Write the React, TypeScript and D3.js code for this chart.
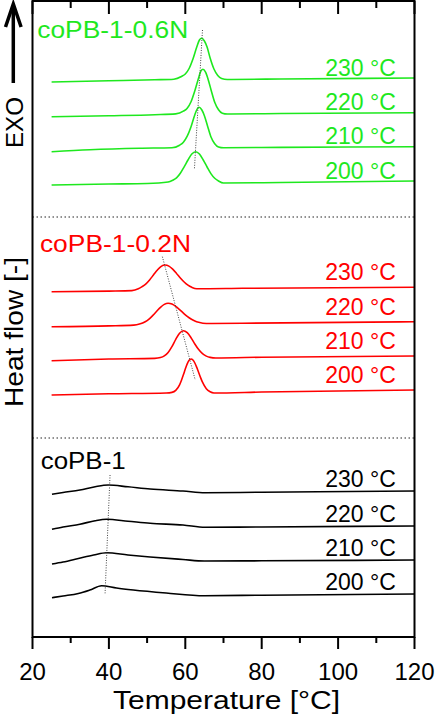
import * as d3 from 'd3';

const WIDTH = 436;
const HEIGHT = 719;
const margin = { top: 1, right: 21.5, bottom: 82, left: 32.5 };

// axis ticks
const xTicks = [20, 40, 60, 80, 100, 120];
const xMinorTicks = [30, 50, 70, 90, 110];

// samples and isothermal crystallization temperatures
const samples = ['coPB-1-0.6N', 'coPB-1-0.2N', 'coPB-1'];
const sampleColors = ['#1ee81e', '#ff0000', '#000000'];
const crystTemps = ['230 °C', '220 °C', '210 °C', '200 °C'];

// vertical offsets of each trace (a.u.), order 230 -> 200
const offsets06N = [55.9, 52.43, 49.03, 45.6];
const offsets02N = [34.97, 31.53, 28.1, 24.7];
const offsetsRef = [14.6, 11.1, 7.7, 4.3];

// heat flow traces [T °C, signal a.u.] relative to their offset
const n06_230: [number, number][] = [[25, -0.4], [40, -0.28], [52, -0.18], [57, -0.12], [59, 0.15], [60, 0.4], [61, 0.95], [62, 1.9], [63, 3.1], [63.7, 3.8], [64.3, 3.97], [65, 3.7], [65.7, 3.1], [66.5, 2.0], [67.5, 0.9], [68.5, 0.25], [69.5, -0.05], [71, -0.15], [85, -0.1], [120, 0]];
const n06_220: [number, number][] = [[25, -0.4], [40, -0.3], [52, -0.2], [57.5, -0.12], [59.5, 0.15], [60.5, 0.45], [61.5, 1.1], [62.5, 2.2], [63.5, 3.5], [64, 4.1], [64.6, 4.34], [65.3, 4.05], [66, 3.3], [66.8, 2.2], [67.7, 1.05], [68.7, 0.3], [69.7, -0.05], [71, -0.13], [85, -0.08], [120, 0]];
const n06_210: [number, number][] = [[25, -0.5], [35, -0.3], [48, -0.15], [56.5, -0.1], [58.5, 0.15], [59.5, 0.45], [60.5, 1.05], [61.5, 2.0], [62.5, 3.2], [63.1, 3.75], [63.6, 3.94], [64.3, 3.7], [65, 3.1], [65.8, 2.1], [66.7, 1.0], [67.7, 0.3], [68.7, -0.02], [70, -0.1], [85, -0.07], [120, 0]];
const n06_200: [number, number][] = [[25, -0.4], [40, -0.3], [50, -0.25], [55.5, -0.1], [56.7, 0.08], [57.7, 0.32], [58.7, 0.78], [59.7, 1.42], [60.7, 2.1], [61.7, 2.7], [62.7, 2.93], [63.7, 2.7], [64.7, 2.1], [65.7, 1.4], [66.7, 0.74], [67.7, 0.27], [68.7, 0.0], [70, -0.2], [85, -0.15], [120, 0]];

const n02_230: [number, number][] = [[25, -0.44], [40, -0.38], [46, -0.33], [47.7, -0.15], [48.7, 0.07], [49.7, 0.35], [50.7, 0.76], [51.7, 1.25], [52.7, 1.73], [53.7, 2.1], [54.7, 2.23], [55.7, 2.12], [56.7, 1.81], [57.7, 1.39], [58.7, 0.93], [59.7, 0.53], [60.7, 0.21], [61.7, 0.0], [63, -0.15], [75, -0.1], [120, 0]];
const n02_220: [number, number][] = [[25, -0.5], [40, -0.42], [46.5, -0.34], [48, -0.24], [49.5, -0.01], [50.5, 0.26], [51.5, 0.63], [52.5, 1.04], [53.5, 1.44], [54.5, 1.73], [55.5, 1.84], [56.5, 1.76], [57.5, 1.53], [58.5, 1.21], [59.5, 0.86], [60.5, 0.53], [61.5, 0.27], [62.5, 0.08], [63.5, -0.05], [65.5, -0.18], [75, -0.15], [120, 0]];
const n02_210: [number, number][] = [[25, -0.47], [40, -0.3], [52, -0.24], [53.5, -0.16], [54.5, 0.01], [55.5, 0.36], [56.5, 0.94], [57.5, 1.66], [58.5, 2.28], [59.5, 2.53], [60.5, 2.33], [61.5, 1.83], [62.5, 1.2], [63.5, 0.64], [64.5, 0.23], [65.5, -0.01], [66.5, -0.14], [68, -0.2], [80, -0.12], [120, 0]];
const n02_200: [number, number][] = [[25, -0.5], [40, -0.38], [55, -0.3], [56.5, -0.24], [57.5, -0.04], [58.5, 0.52], [59, 0.98], [59.5, 1.52], [60, 2.09], [60.5, 2.61], [61, 2.97], [61.5, 3.1], [62, 3.0], [62.5, 2.7], [63, 2.26], [63.5, 1.75], [64, 1.24], [64.5, 0.78], [65.5, 0.13], [66.5, -0.18], [67.5, -0.3], [80, -0.2], [120, 0]];

const ref_230: [number, number][] = [[25.1, -0.33], [28, -0.15], [32.4, 0.1], [36.4, 0.43], [39.8, 0.6], [45, 0.42], [50.8, 0.2], [59.4, 0.0], [65.2, -0.17], [80, -0.12], [120, 0]];
const ref_220: [number, number][] = [[25.1, -0.33], [28, -0.1], [32.4, 0.17], [36.4, 0.53], [39.4, 0.67], [45, 0.48], [50.8, 0.27], [59.4, 0.1], [65.2, -0.13], [80, -0.1], [120, 0]];
const ref_210: [number, number][] = [[25.1, -0.4], [28, -0.2], [32, 0.15], [36, 0.5], [39.4, 0.73], [45, 0.5], [50.8, 0.3], [59.4, 0.05], [65, -0.1], [80, -0.08], [120, 0]];
const ref_200: [number, number][] = [[25.1, -0.37], [28, -0.2], [32, 0.05], [35, 0.4], [38.1, 0.83], [42, 0.6], [46.4, 0.4], [55, 0.1], [65, -0.17], [80, -0.12], [120, 0]];

const traces = [
  [n06_230, n06_220, n06_210, n06_200],
  [n02_230, n02_220, n02_210, n02_200],
  [ref_230, ref_220, ref_210, ref_200],
];
const offsets = [offsets06N, offsets02N, offsetsRef];

// peak position guides (absolute T, heat flow)
const peakGuides: [number, number][][] = [
  [[64.5, 60.7], [62.4, 46.87]],
  [[54.0, 38.03], [62.6, 25.7]],
  [[40.3, 16.2], [39.0, 4.37]],
];

// dividers between samples (heat flow)
const dividers = [42.0, 19.9];

// text layout per sample: label anchor (T, hf), label width, temp-label lift
const sampleLabelPos: [number, number][] = [[21.25, 59.93], [21.95, 38.47], [22.15, 16.8]];
const sampleLabelWidth = [151, 151, 85];
const tempLabelLift = [2.5, 7, 4.5];

const FONT = "'Liberation Sans', Arial, sans-serif";

export default function App() {
  const innerW = WIDTH - margin.left - margin.right;
  const plotBottom = HEIGHT - margin.bottom;

  const x = d3.scaleLinear().domain([20, 120]).range([margin.left, margin.left + innerW]);
  const y = d3.scaleLinear().domain([0, 63.6]).range([plotBottom, margin.top]);

  const line = d3.line<[number, number]>()
    .x(d => x(d[0]))
    .y(d => y(d[1]))
    .curve(d3.curveMonotoneX);

  const x0 = x(20);
  const x1 = x(120);
  const tempLabelX = x(115.1);

  return (
    <svg
      width={WIDTH}
      height={HEIGHT}
      style={{ position: 'absolute', left: 0, top: 0, background: '#fff' }}
      fontFamily={FONT}
    >
      {/* sample dividers */}
      {dividers.map((d, i) => (
        <line key={`div${i}`} x1={x0} x2={x1} y1={y(d)} y2={y(d)}
          stroke="#222" strokeWidth={1} strokeDasharray="1.5 2.5" />
      ))}

      {/* heat flow traces */}
      {traces.map((group, gi) => group.map((pts, ti) => (
        <path key={`tr${gi}-${ti}`}
          d={line(pts.map(([t, v]) => [t, v + offsets[gi][ti]] as [number, number])) || ''}
          fill="none" stroke={sampleColors[gi]} strokeWidth={1.6} />
      )))}

      {/* peak guides */}
      {peakGuides.map((g, i) => (
        <line key={`pg${i}`} x1={x(g[0][0])} y1={y(g[0][1])} x2={x(g[1][0])} y2={y(g[1][1])}
          stroke="#444" strokeWidth={1} strokeDasharray="1 1.5" />
      ))}

      {/* sample labels */}
      {samples.map((s, i) => (
        <text key={`sl${i}`} x={x(sampleLabelPos[i][0])} y={y(sampleLabelPos[i][1])}
          fontSize={23} fill={sampleColors[i]}
          textLength={sampleLabelWidth[i]} lengthAdjust="spacingAndGlyphs">{s}</text>
      ))}

      {/* crystallization temperature labels */}
      {offsets.map((offs, gi) => offs.map((o, ti) => (
        <text key={`tl${gi}-${ti}`} x={tempLabelX} y={y(o) - tempLabelLift[gi]}
          fontSize={23} fill={sampleColors[gi]} textAnchor="end">{crystTemps[ti]}</text>
      )))}

      {/* frame */}
      <rect x={x0} y={margin.top} width={x1 - x0} height={plotBottom - margin.top}
        fill="none" stroke="#000" strokeWidth={2} />

      {/* bottom ticks (outward) */}
      {xTicks.map(t => (
        <line key={`bt${t}`} x1={x(t)} x2={x(t)} y1={plotBottom} y2={plotBottom + 12} stroke="#000" strokeWidth={2} />
      ))}
      {xMinorTicks.map(t => (
        <line key={`bm${t}`} x1={x(t)} x2={x(t)} y1={plotBottom} y2={plotBottom + 6} stroke="#000" strokeWidth={2} />
      ))}
      {/* top ticks (inward) */}
      {xTicks.map(t => (
        <line key={`tt${t}`} x1={x(t)} x2={x(t)} y1={margin.top} y2={margin.top + 13} stroke="#000" strokeWidth={2} />
      ))}
      {xMinorTicks.map(t => (
        <line key={`tm${t}`} x1={x(t)} x2={x(t)} y1={margin.top} y2={margin.top + 7} stroke="#000" strokeWidth={2} />
      ))}

      {/* tick labels */}
      {xTicks.map(t => (
        <text key={`xl${t}`} x={x(t)} y={plotBottom + 43} fontSize={24} textAnchor="middle">{t}</text>
      ))}

      {/* axis titles */}
      <text x={226.5} y={709} fontSize={26} textAnchor="middle"
        textLength={227} lengthAdjust="spacingAndGlyphs">Temperature [°C]</text>
      <text transform="translate(22.5,332) rotate(-90)" fontSize={25} textAnchor="middle"
        textLength={150} lengthAdjust="spacingAndGlyphs">Heat flow [-]</text>

      {/* exotherm direction */}
      <text transform="translate(22.7,122.5) rotate(-90)" fontSize={23} textAnchor="middle"
        textLength={51} lengthAdjust="spacingAndGlyphs">EXO</text>
      <line x1={13.3} x2={13.3} y1={6} y2={83} stroke="#000" strokeWidth={3.5} />
      <path d="M5.5,27 L13.3,4 L21.1,27" fill="none" stroke="#000" strokeWidth={3.5} strokeLinejoin="miter" />
    </svg>
  );
}
